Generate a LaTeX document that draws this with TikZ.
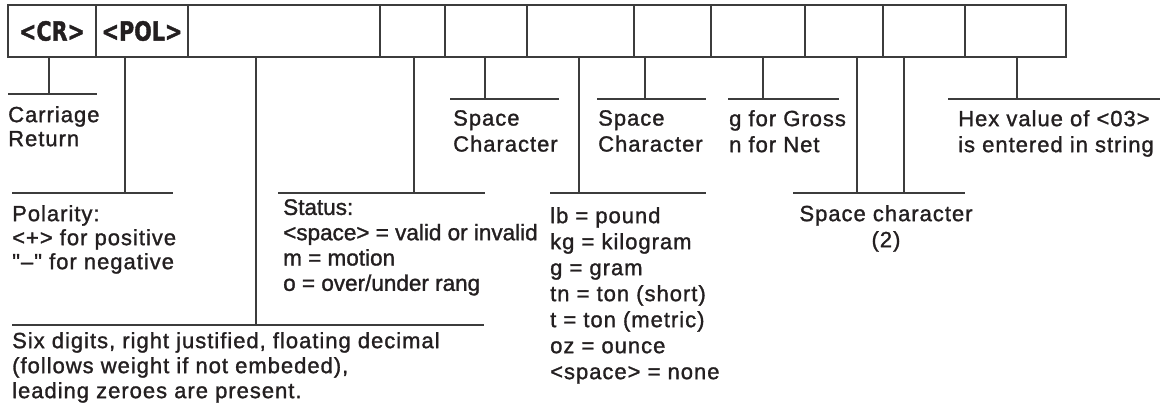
\documentclass[tikz,border=0pt]{standalone}
\usepackage{fontspec}
\setmainfont{Liberation Sans}
\newfontfamily\notefont{Liberation Sans}[LetterSpace=4.5,UprightFeatures={FakeBold=1.3}]
\newfontfamily\statfont{Liberation Sans}[UprightFeatures={FakeBold=1.3}]
\newfontfamily\tagfont{DejaVu Sans Condensed}[BoldFeatures={FakeBold=1.5}]
\usepackage{tikz}
\usetikzlibrary{positioning}
\definecolor{fmink}{HTML}{231F20}
\definecolor{fmline}{HTML}{3C3C3C}
\tikzset{
  cell/.style={rectangle,draw=fmline,line width=1.1pt,minimum height=52pt,
               inner sep=0pt,outer sep=0pt,text=fmink,
               font=\fontsize{23}{25}\tagfont\bfseries},
  note/.style={anchor=north west,inner sep=0pt,align=left,text=fmink,
               font=\fontsize{22}{25}\notefont},
  rule/.style={draw=fmline,line width=1.1pt},
}

\begin{document}
\begin{tikzpicture}[x=1pt,y=-1pt]
  \useasboundingbox (0,0) rectangle (1167,417);
  % record layout
  \node[cell,minimum width=88pt,anchor=north west] (c1) at (8,5) {\scalebox{1}[1.15]{<CR>}};
  \node[cell,minimum width=92pt,right=0pt of c1] (c2) {\scalebox{1}[1.15]{<POL>}};
  \node[cell,minimum width=192pt,right=0pt of c2] (c3) {};
  \node[cell,minimum width=65pt,right=0pt of c3] (c4) {};
  \node[cell,minimum width=82pt,right=0pt of c4] (c5) {};
  \node[cell,minimum width=107pt,right=0pt of c5] (c6) {};
  \node[cell,minimum width=77pt,right=0pt of c6] (c7) {};
  \node[cell,minimum width=94pt,right=0pt of c7] (c8) {};
  \node[cell,minimum width=78pt,right=0pt of c8] (c9) {};
  \node[cell,minimum width=82pt,right=0pt of c9] (c10) {};
  \node[cell,minimum width=101pt,right=0pt of c10] (c11) {};

  % tee points on the rules
  \coordinate (tcr) at (49,94);
  \coordinate (tpol) at (125,193);
  \coordinate (tnum) at (256,325);
  \coordinate (tstat) at (414,193);
  \coordinate (tsp1) at (485,99);
  \coordinate (tunit) at (579,193);
  \coordinate (tsp2) at (645,99);
  \coordinate (tgn) at (763,99);
  \coordinate (tspa) at (857,193);
  \coordinate (tspb) at (904,193);
  \coordinate (thex) at (1017,99);

  % rules
  \draw[rule] (8,94) -- (97,94);
  \draw[rule] (12,193) -- (173,193);
  \draw[rule] (12,325) -- (484,325);
  \draw[rule] (278,193) -- (485,193);
  \draw[rule] (450,99) -- (559,99);
  \draw[rule] (550,193) -- (706,193);
  \draw[rule] (597,99) -- (706,99);
  \draw[rule] (728,99) -- (839,99);
  \draw[rule] (793,193) -- (965,193);
  \draw[rule] (948,99) -- (1160,99);

  % leaders
  \draw[rule] (c1.south -| tcr) -- (tcr);
  \draw[rule] (c2.south -| tpol) -- (tpol);
  \draw[rule] (c3.south -| tnum) -- (tnum);
  \draw[rule] (c4.south -| tstat) -- (tstat);
  \draw[rule] (c5.south -| tsp1) -- (tsp1);
  \draw[rule] (c6.south -| tunit) -- (tunit);
  \draw[rule] (c7.south -| tsp2) -- (tsp2);
  \draw[rule] (c8.south -| tgn) -- (tgn);
  \draw[rule] (c9.south -| tspa) -- (tspa);
  \draw[rule] (c10.south -| tspb) -- (tspb);
  \draw[rule] (c11.south -| thex) -- (thex);

  % notes
  \node[note,font=\fontsize{22}{24}\notefont] (ncr) at (8,106) {Carriage\\Return};
  \node[note,font=\fontsize{22}{24}\notefont] (npol) at (12,205)
    {Polarity:\\<+> for positive\\\char34\textendash\char34{} for negative};
  \node[note] (nnum) at (12,332)
    {Six digits, right justified, floating decimal\\(follows weight if not embeded),\\leading zeroes are present.};
  \node[note,font=\fontsize{22.5}{25.3}\statfont] (nstat) at (283,199)
    {Status:\\<space> = valid or invalid\\m = motion\\o = over/under rang};
  \node[note,font=\fontsize{22}{26}\notefont] (nunit) at (550,207)
    {lb = pound\\kg = kilogram\\g = gram\\tn = ton (short)\\t = ton (metric)\\oz = ounce\\<space> = none};
  \node[note,font=\fontsize{22}{26}\notefont] (nsp1) at (453,110) {Space\\Character};
  \node[note,font=\fontsize{22}{26}\notefont] (nsp2) at (598,110) {Space\\Character};
  \node[note,font=\fontsize{22}{26}\notefont] (ngn) at (729,110) {g for Gross\\n for Net};
  \node[note,font=\fontsize{22}{26}\notefont,anchor=north,align=center] (nspc) at (886,205)
    {Space character\\(2)};
  \node[note,font=\fontsize{22}{26}\notefont] (nhex) at (958,110)
    {Hex value of <03>\\is entered in string};
\end{tikzpicture}
\end{document}
